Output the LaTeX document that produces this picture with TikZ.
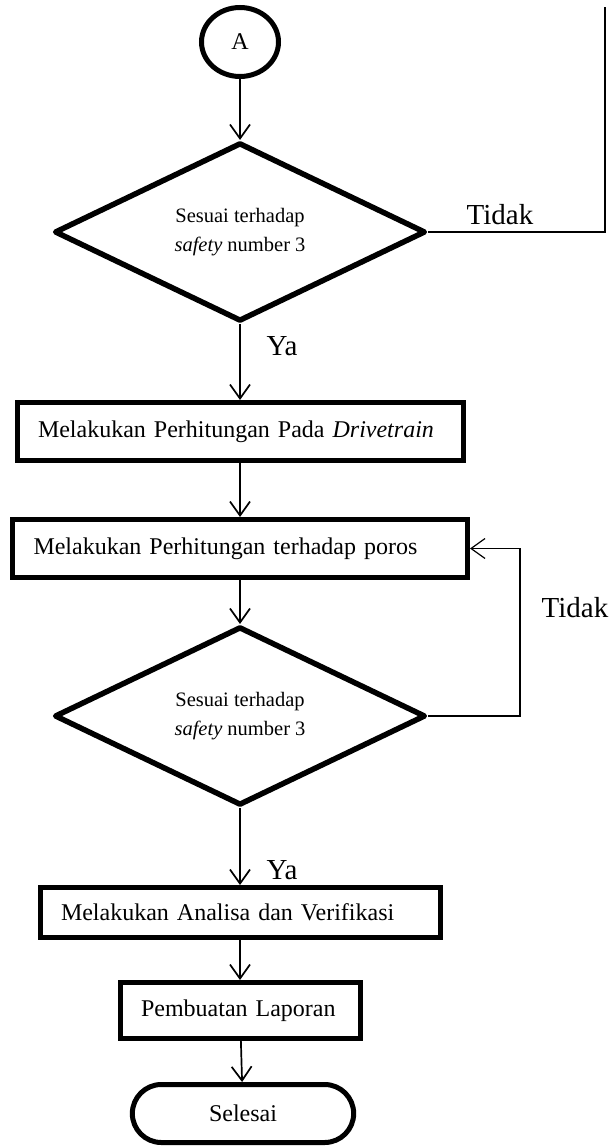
\documentclass[tikz,border=0pt]{standalone}
\usepackage{fontspec}
\setmainfont{Liberation Serif}
\usetikzlibrary{shapes.geometric,shapes.misc,arrows.meta}

\begin{document}
\begin{tikzpicture}[x=1pt, y=-1pt,
	procbox/.style={rectangle, draw, line width=5pt, inner xsep=21pt, inner ysep=0pt, align=left, font=\fontsize{24}{29}\selectfont},
	decbox/.style={diamond, draw, line width=5.5pt, line join=round, inner sep=0pt, minimum width=371pt, minimum height=157pt, align=center, font=\fontsize{20.5}{29}\selectfont},
	flow/.style={line width=1.7pt, -{Straight Barb[length=14pt, width=20pt]}},
	lbl/.style={font=\fontsize{29}{32}\selectfont}]

	\useasboundingbox (0, 0) rectangle (613, 1147);

	\node (conA) [ellipse, draw, line width=5pt, minimum width=77pt, minimum height=69pt, font=\fontsize{24}{29}\selectfont] at (240, 42) {A};
	\node (dec1) [decbox] at (240, 232) {Sesuai terhadap\\\textit{safety} number 3};
	\node (proc1) [procbox, text width=404pt, minimum height=58pt] at (240, 431.5) {Melakukan Perhitungan Pada \textit{Drivetrain}};
	\node (proc2) [procbox, text width=413pt, minimum height=58pt] at (240, 548.5) {Melakukan Perhitungan terhadap poros};
	\node (dec2) [decbox] at (240, 716) {Sesuai terhadap\\\textit{safety} number 3};
	\node (proc3) [procbox, text width=358pt, minimum height=50pt] at (240, 912.5) {Melakukan Analisa dan Verifikasi};
	\node (proc4) [procbox, text width=198pt, minimum height=56pt] at (240, 1010.5) {Pembuatan Laporan};
	\node (stop) [rounded rectangle, draw, line width=5pt, minimum width=228pt, minimum height=58pt, font=\fontsize{24}{29}\selectfont] at (243, 1113.5) {Selesai};

	\node (no1) [lbl] at (500, 215) {Tidak};
	\node (no2) [lbl] at (575, 608) {Tidak};
	\node (yes1) [lbl] at (282, 346) {Ya};
	\node (yes2) [lbl] at (282, 870) {Ya};

	\coordinate (exit1) at (605, 7);
	\coordinate (back2) at (520, 548.5);

	\path
	(conA) edge[flow] (dec1)
	(dec1) edge[flow] (proc1)
	(proc1) edge[flow] (proc2)
	(proc2) edge[flow] (dec2)
	(dec2) edge[flow] (proc3)
	(proc3) edge[flow] (proc4)
	(proc4) edge[flow] (stop);

	\draw[line width=1.2pt] (dec1.east) -| (exit1);
	\draw[line width=1.2pt, -{Straight Barb[length=14pt, width=20pt]}] (dec2.east) -| (back2) -- (proc2.east);

\end{tikzpicture}
\end{document}
